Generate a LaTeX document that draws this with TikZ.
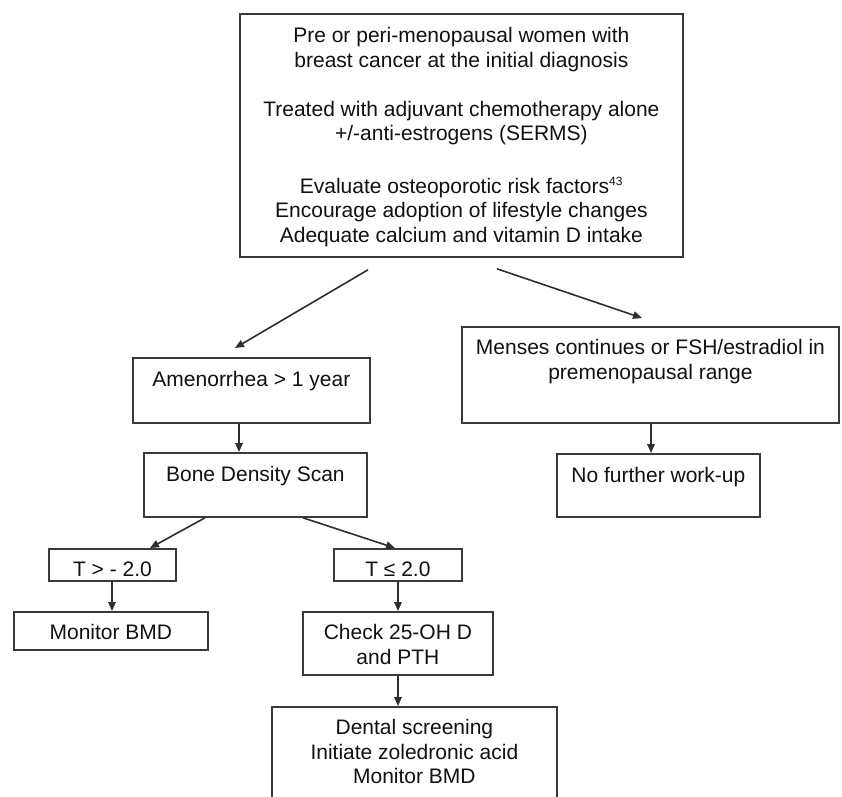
\documentclass[tikz,border=0pt]{standalone}
\usepackage{fontspec}
\setmainfont{Liberation Sans}
\usetikzlibrary{arrows.meta}
\definecolor{boxc}{HTML}{3A3A3A}
\definecolor{linec}{HTML}{2E2E2E}
\definecolor{txtc}{HTML}{111111}
\newcommand{\bxt}[4]{\parbox[c][#2pt][t]{#1pt}{\centering\rule{0pt}{#3pt}#4}}
\begin{document}
\begin{tikzpicture}[x=1pt,y=-1pt,
  box/.style={draw=boxc, line width=1.8pt, inner sep=0pt, anchor=north west,
    text=txtc, font=\fontsize{21}{24.5}\selectfont},
  arr/.style={draw=linec, line width=1.6pt, -{Triangle[length=9pt,width=7.5pt]}}]
\useasboundingbox (0,0) rectangle (842,796);
\clip (0,0) rectangle (842,796);
\fill[white] (0,0) rectangle (842,796);

\node[box] (top) at (239,13) {\bxt{443}{243}{29}{Pre or peri-menopausal women with\\breast cancer at the initial diagnosis\\[24.5pt]Treated with adjuvant chemotherapy alone\\+/-anti-estrogens (SERMS)\\[28pt]Evaluate osteoporotic risk factors\textsuperscript{\fontsize{12}{12}\selectfont 43}\\Encourage adoption of lifestyle changes\\Adequate calcium and vitamin D intake}};

\node[box] (amen) at (132,357) {\bxt{237}{65}{29}{Amenorrhea > 1 year}};
\node[box] (menses) at (461,326) {\bxt{377}{96}{28}{Menses continues or FSH/estradiol in\\premenopausal range}};
\node[box] (bone) at (143,452) {\bxt{223}{64}{29}{Bone Density Scan}};
\node[box] (nofur) at (556,453) {\bxt{203}{63}{29}{No further work-up}};
\node[box] (tgt) at (48,548) {\bxt{127}{32}{28}{T > - 2.0}};
\node[box] (tle) at (333,548) {\bxt{128}{32}{28}{T ≤ 2.0}};
\node[box] (mon) at (13,611) {\bxt{194}{38}{28}{Monitor BMD}};
\node[box] (check) at (302,611) {\bxt{190}{63}{28}{Check 25-OH D\\and PTH}};
\node[box] (dental) at (271,706) {\bxt{285}{100}{28}{Dental screening\\Initiate zoledronic acid\\Monitor BMD}};

\draw[arr] ([xshift=129pt,yshift=-12pt]top.south west) -- ([xshift=103pt,yshift=9pt]amen.north west);
\draw[arr] ([xshift=258pt,yshift=-11pt]top.south west) -- ([xshift=181pt,yshift=8pt]menses.north west);
\draw[arr] ([xshift=107pt]amen.south west) -- ([xshift=96pt]bone.north west);
\draw[arr] ([xshift=190pt]menses.south west) -- ([xshift=95pt]nofur.north west);
\draw[arr] ([xshift=62pt]bone.south west) -- ([xshift=102pt]tgt.north west);
\draw[arr] ([xshift=160pt]bone.south west) -- ([xshift=62pt]tle.north west);
\draw[arr] ([xshift=64pt]tgt.south west) -- ([xshift=99pt]mon.north west);
\draw[arr] ([xshift=65pt]tle.south west) -- ([xshift=96pt]check.north west);
\draw[arr] ([xshift=96pt]check.south west) -- ([xshift=127pt]dental.north west);
\end{tikzpicture}
\end{document}
